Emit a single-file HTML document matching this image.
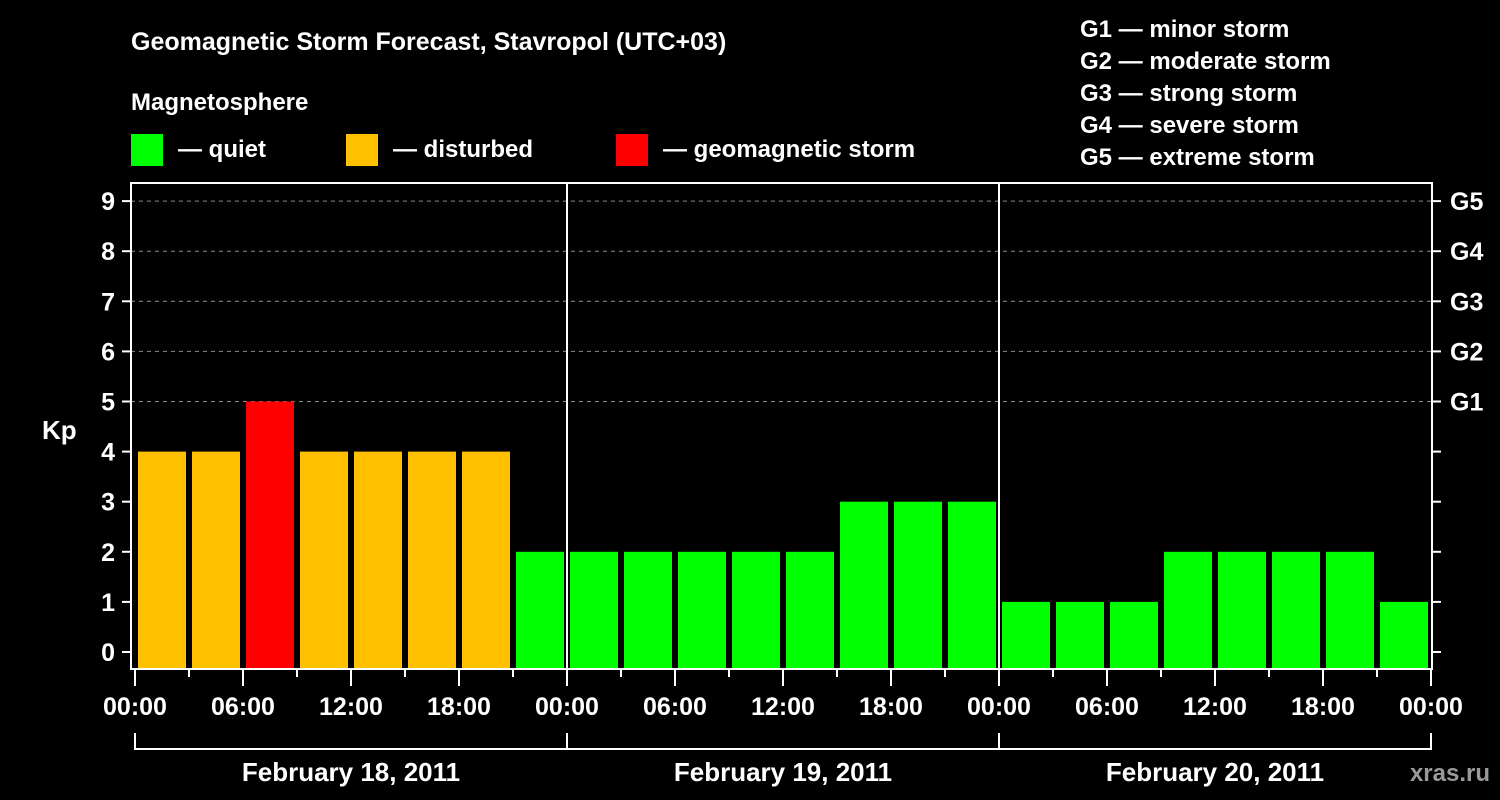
<!DOCTYPE html>
<html><head><meta charset="utf-8"><style>
html,body{margin:0;padding:0;background:#000;}
svg{display:block;font-family:"Liberation Sans",sans-serif;font-weight:bold;}
</style></head><body>
<svg id="c" width="1500" height="800" viewBox="0 0 1500 800">
<text x="131" y="50" fill="#fff" font-size="25">Geomagnetic Storm Forecast, Stavropol (UTC+03)</text>
<text x="131" y="110" fill="#fff" font-size="24">Magnetosphere</text>
<g><rect x="131" y="134" width="32" height="32" fill="#00ff00"/><text x="178" y="157" fill="#fff" font-size="24">— quiet</text></g>
<g><rect x="346" y="134" width="32" height="32" fill="#ffc000"/><text x="393" y="157" fill="#fff" font-size="24">— disturbed</text></g>
<g><rect x="616" y="134" width="32" height="32" fill="#ff0000"/><text x="663" y="157" fill="#fff" font-size="24">— geomagnetic storm</text></g>
<g fill="#fff" font-size="24">
<text x="1080" y="37">G1 — minor storm</text>
<text x="1080" y="69">G2 — moderate storm</text>
<text x="1080" y="101">G3 — strong storm</text>
<text x="1080" y="133">G4 — severe storm</text>
<text x="1080" y="165">G5 — extreme storm</text>
</g>
<text x="42" y="439" fill="#fff" font-size="26">Kp</text>
<g id="grid"></g>
<g id="bars"></g>
<g id="axes"></g>
<text x="1490" y="781" fill="#9a9a9a" font-size="24" text-anchor="end">xras.ru</text>
</svg>
<script>
const values = [4,4,5,4,4,4,4,2, 2,2,2,2,2,3,3,3, 1,1,1,2,2,2,2,1];
const yTicks = [0,1,2,3,4,5,6,7,8,9];
const gLabels = ["G1","G2","G3","G4","G5"];
const hourLabels = ["00:00","06:00","12:00","18:00"];
const dayLabels = ["February 18, 2011","February 19, 2011","February 20, 2011"];
const NS="http://www.w3.org/2000/svg";
const X0=135, SLOT=54, Y0=652, UNIT=50.1, TOP=183, BOT=668, LEFT=131, RIGHT=1432;
const xOf = i => X0 + i*SLOT;
const yOf = v => Y0 - v*UNIT;
function mk(tag, attrs, parent){const e=document.createElementNS(NS,tag);for(const k in attrs)e.setAttribute(k,attrs[k]);parent.appendChild(e);return e;}
const grid=document.getElementById('grid'), bars=document.getElementById('bars'), axes=document.getElementById('axes');
yTicks.forEach(v=>{
  if(v>=5){
    const l=mk('line',{x1:LEFT,x2:RIGHT,y1:yOf(v),y2:yOf(v),stroke:'#8a8a8a','stroke-width':1,'stroke-dasharray':'4,4'},grid);
    
    
  }
  const t=mk('line',{x1:122,x2:LEFT,y1:yOf(v),y2:yOf(v),stroke:'#fff','stroke-width':2},axes);
  
  
  const tr=mk('line',{x1:RIGHT,x2:1441,y1:yOf(v),y2:yOf(v),stroke:'#fff','stroke-width':2},axes);
  
  
  const lb=mk('text',{x:115,y:yOf(v)+9,fill:'#fff','font-size':25,'text-anchor':'end'},axes);
  lb.textContent=v;
  
  
});
gLabels.forEach((g,i)=>{
  const t=mk('text',{x:1450,y:yOf(5+i)+9,fill:'#fff','font-size':25},axes);
  t.textContent=g;
  
  
});
values.forEach((v,i)=>{
  const col = v>=5?'#ff0000':(v>=4?'#ffc000':'#00ff00');
  const r=mk('rect',{x:xOf(i)+3,y:yOf(v),width:48,height:BOT-yOf(v),fill:col},bars);
  
  
});
// frame
const fr=mk('rect',{x:LEFT,y:TOP,width:RIGHT-LEFT,height:BOT+1-TOP,fill:'none',stroke:'#fff','stroke-width':2},axes);


for(let d=1;d<3;d++){
  const l=mk('line',{x1:xOf(d*8),x2:xOf(d*8),y1:TOP,y2:BOT,stroke:'#fff','stroke-width':2},axes);
  
  
}
for(let i=0;i<=24;i++){
  const major=i%2===0;
  const t=mk('line',{x1:xOf(i),x2:xOf(i),y1:670,y2:major?686:677,stroke:'#fff','stroke-width':2},axes);
  
  
  if(major){
    const lb=mk('text',{x:xOf(i),y:715,fill:'#fff','font-size':25,'text-anchor':'middle'},axes);
    lb.textContent=hourLabels[(i/2)%4];
    
    
  }
}
dayLabels.forEach((d,k)=>{
  const a=xOf(k*8), b=xOf(k*8+8);
  const p=mk('path',{d:`M${a},733 V749 H${b} V733`,fill:'none',stroke:'#fff','stroke-width':2},axes);
  
  
  const t=mk('text',{x:(a+b)/2,y:781,fill:'#fff','font-size':26,'text-anchor':'middle'},axes);
  t.textContent=d;
  
  
});
</script>
</body></html>
